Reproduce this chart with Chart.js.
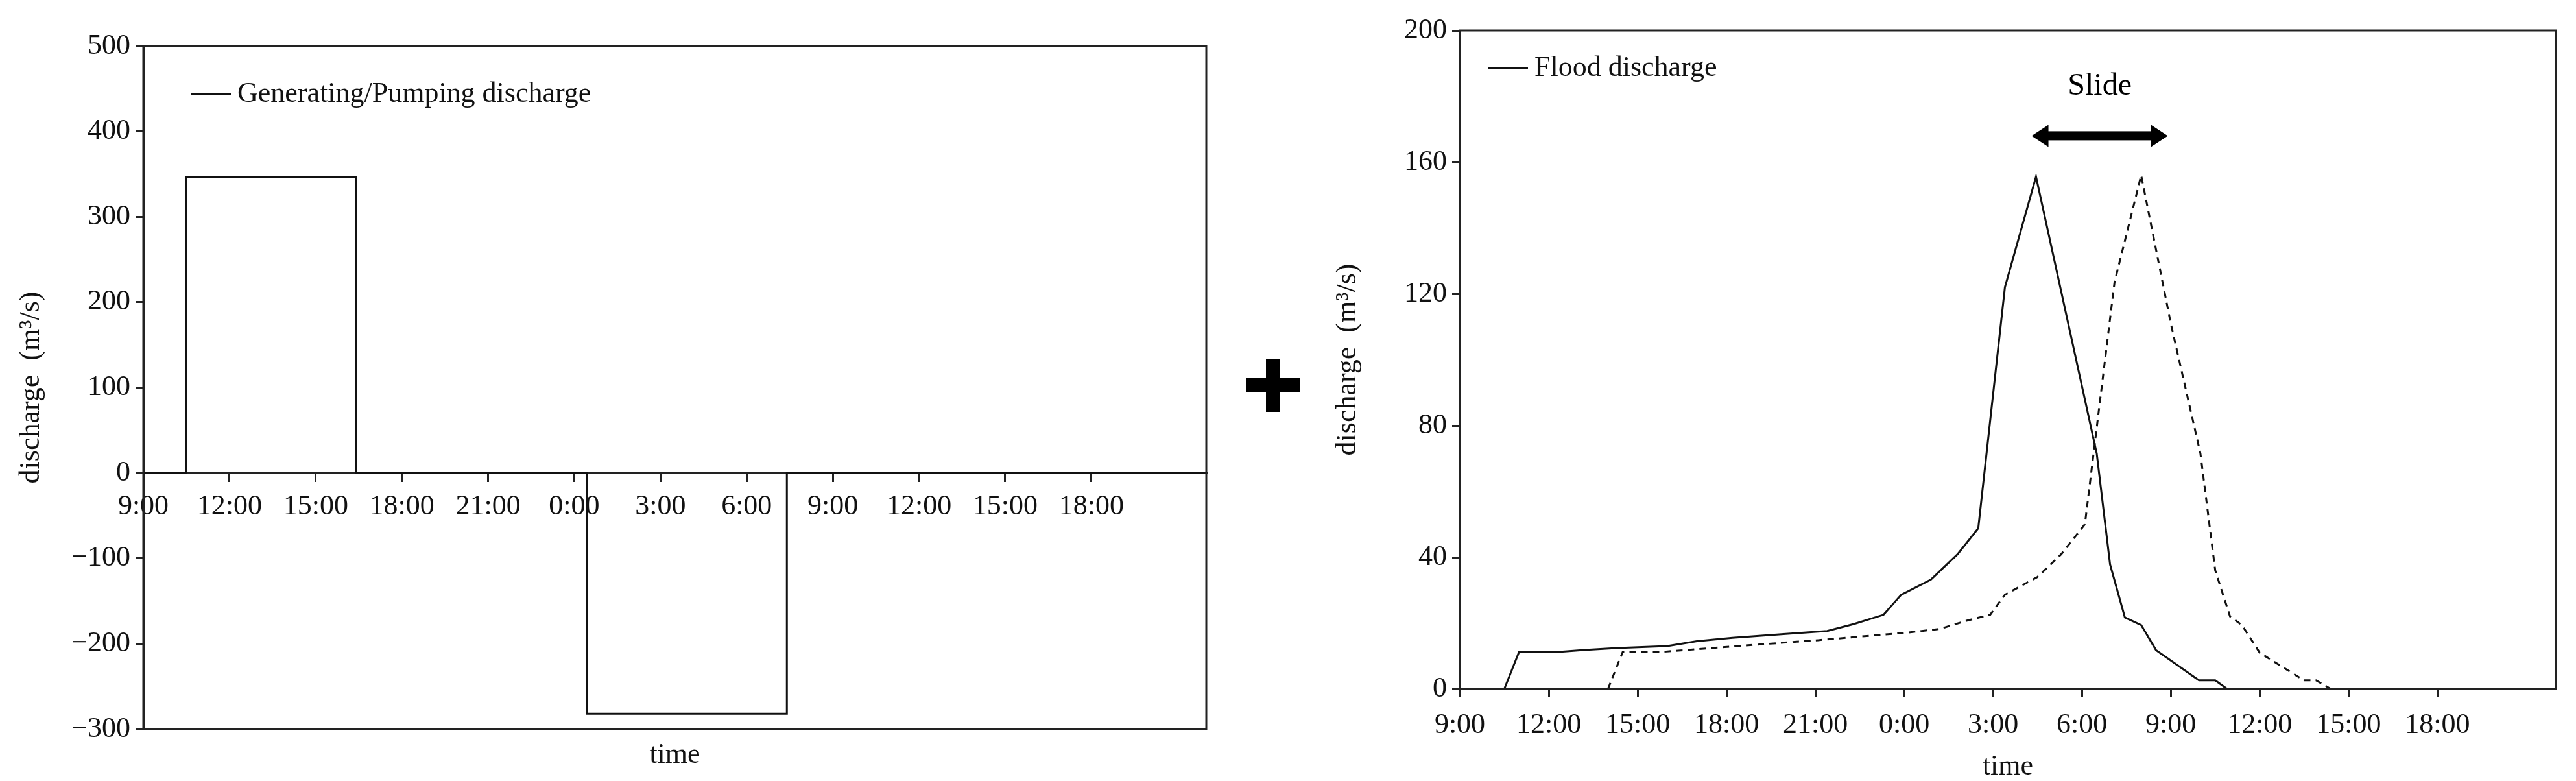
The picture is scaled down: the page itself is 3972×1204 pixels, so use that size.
<!DOCTYPE html>
<html>
<head>
<meta charset="utf-8">
<script src="https://cdn.jsdelivr.net/npm/chart.js@4"></script>
<style>
  html, body { margin: 0; padding: 0; background: #fff; }
  #wrap { position: relative; width: 3972px; height: 1204px; }
  .box { position: absolute; top: 0; height: 1204px; }
  #leftBox { left: 0; width: 1900px; }
  #rightBox { left: 1900px; width: 2072px; }
</style>
</head>
<body>
<div id="wrap">
  <div class="box" id="leftBox"><canvas id="leftChart"></canvas></div>
  <div class="box" id="rightBox"><canvas id="rightChart"></canvas></div>
</div>
<script>
// ── data (x = hours after 9:00 of day 1) ──
const timeLabels = ['9:00', '12:00', '15:00', '18:00', '21:00', '0:00', '3:00', '6:00', '9:00', '12:00', '15:00', '18:00', '21:00'];

const genHours  = [0, 1.5, 1.5, 7.4, 7.4, 15.45, 15.45, 22.4, 22.4, 37];
const genValues = [0, 0, 347, 347, 0, 0, -282, -282, 0, 0];

const floodHours  = [1.5, 2.0, 3.4, 4.2, 5.3, 7.0, 8.0, 9.2, 11.0, 12.4, 13.3, 14.3, 14.9, 15.9, 16.8, 17.5, 18.4, 19.45, 21.5, 21.95, 22.45, 23.0, 23.5, 24.95, 25.5, 25.9, 37];
const floodValues = [0, 11.3, 11.3, 11.8, 12.4, 13, 14.5, 15.5, 16.7, 17.6, 19.7, 22.5, 28.6, 33.2, 40.9, 48.8, 122, 155.6, 71.5, 37.8, 21.7, 19.4, 11.8, 2.6, 2.6, 0, 0];

const slidHours  = [5.0, 5.5, 6.9, 9.8, 12.1, 15.1, 16.2, 17.1, 17.9, 18.4, 19.5, 20.3, 21.1, 22.1, 23.0, 24.0, 25.0, 25.5, 26.0, 26.4, 27.0, 28.5, 28.9, 29.4, 37];
const slidValues = [0, 11.3, 11.3, 13.3, 14.8, 17.1, 18.2, 20.7, 22.5, 28.6, 34, 40.9, 50, 123.5, 156, 111, 71.5, 36, 22, 19.4, 11, 2.6, 2.6, 0, 0];

const leftYTicks  = [500, 400, 300, 200, 100, 0, -100, -200, -300];
const rightYTicks = [0, 40, 80, 120, 160, 200];
const slideArrow  = { from: 19.3, to: 23.9, y: 168, labelY: 183 };

const SERIF = '"Liberation Serif", "DejaVu Serif", serif';
const FS = 44;

function pts(xs, ys) { return xs.map((x, i) => ({ x, y: ys[i] })); }
function timeTick(v) { return timeLabels[v / 3] ?? ''; }
function keepEvery3(scale) {
  scale.ticks = scale.ticks.filter(t => t.value % 3 === 0);
}

// frame + extras drawn after datasets
function framePlugin(extra) {
  return {
    id: 'frame',
    afterDatasetsDraw(chart) {
      const { ctx, chartArea: a } = chart;
      ctx.save();
      ctx.strokeStyle = '#222';
      ctx.lineWidth = 3;
      ctx.strokeRect(a.left, a.top, a.right - a.left, a.bottom - a.top);
      ctx.restore();
      if (extra) extra(chart);
    }
  };
}

function drawLegend(ctx, x, y, label) {
  ctx.save();
  ctx.strokeStyle = '#111';
  ctx.lineWidth = 3;
  ctx.beginPath();
  ctx.moveTo(x, y);
  ctx.lineTo(x + 62, y);
  ctx.stroke();
  ctx.fillStyle = '#111';
  ctx.font = `${FS}px ${SERIF}`;
  ctx.textBaseline = 'middle';
  ctx.fillText(label, x + 72, y);
  ctx.restore();
}

// ── left: generating / pumping discharge ──
new Chart(document.getElementById('leftChart'), {
  type: 'line',
  data: {
    datasets: [{
      data: pts(genHours, genValues),
      borderColor: '#111',
      borderWidth: 3,
      pointRadius: 0,
      tension: 0,
      xAxisID: 'x'
    }]
  },
  options: {
    responsive: true,
    maintainAspectRatio: false,
    animation: false,
    layout: { padding: { top: 71, right: 40, left: 0, bottom: 0 } },
    plugins: { legend: { display: false }, tooltip: { enabled: false } },
    scales: {
      x: {
        type: 'linear',
        position: { y: 0 },
        min: 0, max: 37,
        afterBuildTicks: keepEvery3,
        ticks: { stepSize: 3, autoSkip: false, maxRotation: 0, color: '#111', padding: 14,
                 font: { family: SERIF, size: FS }, callback: timeTick },
        grid: { drawOnChartArea: false, tickLength: 12, color: '#222', lineWidth: 3 },
        border: { color: '#222', width: 3 }
      },
      x2: {
        type: 'linear',
        position: 'bottom',
        min: 0, max: 37,
        ticks: { display: false },
        grid: { display: false },
        border: { display: false },
        title: { display: true, text: 'time', color: '#111',
                 font: { family: SERIF, size: FS }, padding: { top: 0, bottom: 13 } },
        afterFit: s => { s.height = 80; }
      },
      y: {
        min: -300, max: 500,
        afterBuildTicks: s => { s.ticks = leftYTicks.map(v => ({ value: v })); },
        ticks: { color: '#111', padding: 8, font: { family: SERIF, size: FS },
                 callback: v => String(v).replace('-', '\u2212') },
        grid: { drawOnChartArea: false, tickLength: 12, color: '#222', lineWidth: 3 },
        border: { color: '#222', width: 3 },
        title: { display: true, text: 'discharge  (m\u00b3/s)', color: '#111',
                 font: { family: SERIF, size: FS }, padding: { top: 22, bottom: 0 } },
        afterFit: s => { s.width = 221; }
      }
    }
  },
  plugins: [framePlugin(chart => drawLegend(chart.ctx, 294, 145, 'Generating/Pumping discharge'))]
});

// ── right: flood discharge ──
new Chart(document.getElementById('rightChart'), {
  type: 'line',
  data: {
    datasets: [{
      data: pts(floodHours, floodValues),
      borderColor: '#111', borderWidth: 3, pointRadius: 0, tension: 0
    }, {
      data: pts(slidHours, slidValues),
      borderColor: '#111', borderWidth: 3, borderDash: [10, 8], pointRadius: 0, tension: 0
    }]
  },
  options: {
    responsive: true,
    maintainAspectRatio: false,
    animation: false,
    layout: { padding: { top: 47, right: 31, left: 0, bottom: 0 } },
    plugins: { legend: { display: false }, tooltip: { enabled: false } },
    scales: {
      x: {
        type: 'linear',
        min: 0, max: 37,
        afterBuildTicks: keepEvery3,
        ticks: { stepSize: 3, autoSkip: false, maxRotation: 0, color: '#111', padding: 18,
                 font: { family: SERIF, size: FS }, callback: timeTick },
        grid: { drawOnChartArea: false, tickLength: 12, color: '#222', lineWidth: 3 },
        border: { color: '#222', width: 3 },
        title: { display: true, text: 'time', color: '#111',
                 font: { family: SERIF, size: FS, lineHeight: 1.0 }, padding: { top: 0, bottom: 0 } },
        afterFit: s => { s.height = 142; }
      },
      y: {
        min: 0, max: 200,
        afterBuildTicks: s => { s.ticks = rightYTicks.map(v => ({ value: v })); },
        ticks: { color: '#111', padding: 8, font: { family: SERIF, size: FS } },
        grid: { drawOnChartArea: false, tickLength: 12, color: '#222', lineWidth: 3 },
        border: { color: '#222', width: 3 },
        title: { display: true, text: 'discharge  (m\u00b3/s)', color: '#111',
                 font: { family: SERIF, size: FS }, padding: { top: 152, bottom: 0 } },
        afterFit: s => { s.width = 351; }
      }
    }
  },
  plugins: [framePlugin(chart => {
    const { ctx, scales: { x, y } } = chart;
    drawLegend(ctx, 394, 105, 'Flood discharge');

    // slide arrow
    const x0 = x.getPixelForValue(slideArrow.from);
    const x1 = x.getPixelForValue(slideArrow.to);
    const ay = y.getPixelForValue(slideArrow.y);
    ctx.save();
    ctx.fillStyle = '#000';
    ctx.fillRect(x0 + 20, ay - 7, x1 - x0 - 40, 14);
    ctx.beginPath();
    ctx.moveTo(x0, ay); ctx.lineTo(x0 + 26, ay - 17); ctx.lineTo(x0 + 26, ay + 17); ctx.closePath();
    ctx.moveTo(x1, ay); ctx.lineTo(x1 - 26, ay - 17); ctx.lineTo(x1 - 26, ay + 17); ctx.closePath();
    ctx.fill();
    ctx.font = `${FS + 4}px ${SERIF}`;
    ctx.textAlign = 'center';
    ctx.textBaseline = 'middle';
    ctx.fillText('Slide', (x0 + x1) / 2, y.getPixelForValue(slideArrow.labelY));

    // "+" between the two panels
    ctx.fillRect(22, 583, 82, 22);
    ctx.fillRect(52, 553, 22, 82);
    ctx.restore();
  })]
});
</script>
</body>
</html>
